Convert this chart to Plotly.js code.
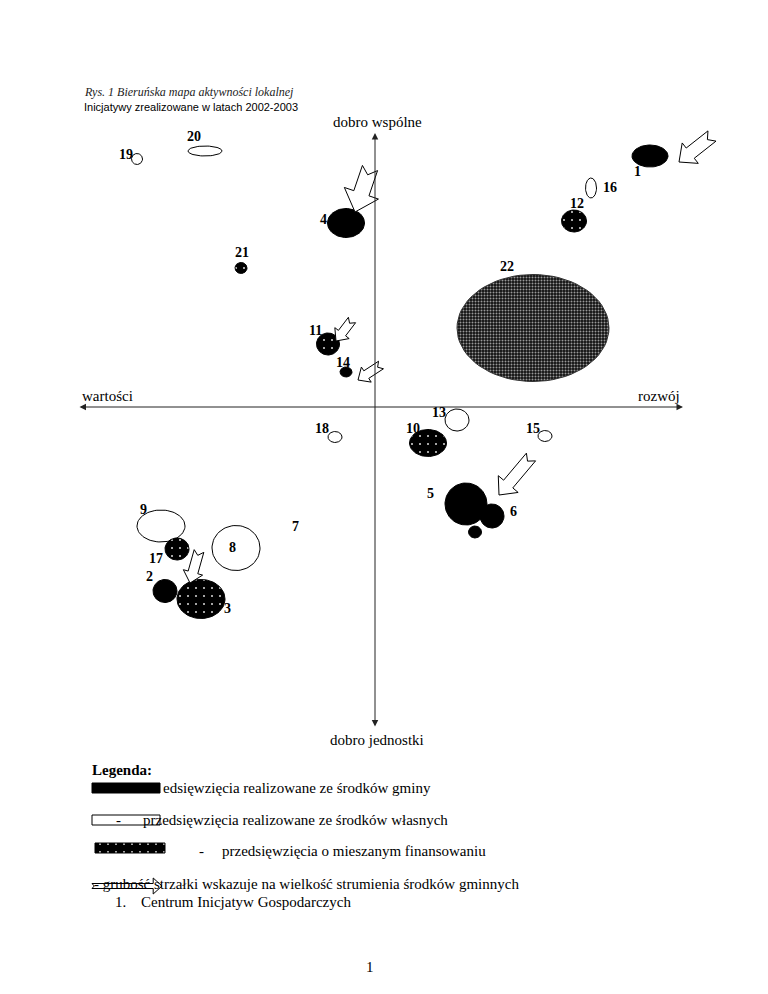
<!DOCTYPE html>
<html>
<head>
<meta charset="utf-8">
<script src="https://cdn.plot.ly/plotly-3.0.1.min.js"></script>
<style>html,body{margin:0;padding:0;background:#fff;}#chart{width:768px;height:994px;}</style>
</head>
<body>
<div id="chart"></div>
<script>
// ---- Data (coordinates relative to the axis cross) ----
const itemIds    = ['22','1','2','3','4','5','6','','8','9','10','11','12','13','14','15','16','17','18','19','20','21'];
const itemX      = [158, 275, -210, -174, -29, 91, 117, 100, -139, -214, 53, -47, 199, 82, -29, 170, 216, -198, -40, -238, -170, -134];
const itemY      = [79, 251, -184, -192, 184, -97, -109, -125, -141, -119, -36, 63, 186, -13, 35, -29, 219, -142, -30, 248, 256, 139];
const itemW      = [152, 36, 24, 48, 37, 42, 24, 13, 48, 48, 37, 23, 25, 24, 12, 14, 11, 24, 14, 11, 34, 12];
const itemH      = [107, 22, 23, 39, 29, 42, 24, 12, 45, 32, 27, 22, 22, 22, 10, 11, 20, 22, 11, 11, 10, 11];
// g = środki gminy (solid), w = środki własne (empty), m = mieszane (dotted), d = dense pattern
const itemKind   = ['d','g','g','m','g','g','g','g','w','w','m','m','m','w','g','w','w','m','w','w','w','m'];

const labelText  = ['1','2','3','4','5','6','7','8','9','10','11','12','13','14','15','16','17','18','19','20','21','22'];
const labelX     = [262, -226, -148, -52, 55, 138, -80, -143, -232, 38, -60, 202, 64, -32, 158, 235, -219, -53, -249, -181, -133, 132];
const labelY     = [236, -169, -201, 188, -86, -104, -119, -140, -102, -21, 77, 204, -5, 45, -21, 220, -151, -21, 253, 271, 155, 141];

// arrows: tail -> tip, head half-width, shaft half-width
const arrowTailX = [337, -5, -23, 6, 156, -176];
const arrowTailY = [271, 239, 87, 42, -50, -144];
const arrowTipX  = [304, -20, -39, -17, 124, -185];
const arrowTipY  = [245, 195, 66, 27, -88, -176];
const arrowHead  = [13, 18, 9, 9, 13, 10];
const arrowShaft = [6.5, 8, 4.5, 4.5, 6, 5];

// axes
const axisX = [-297, 308];
const axisY = [274, -321];

// ---- helpers ----
function ellipse(cx, cy, w, h) {
  const xs = [], ys = [];
  for (let i = 0; i <= 72; i++) {
    const t = i / 72 * 2 * Math.PI;
    xs.push(cx + w / 2 * Math.cos(t));
    ys.push(cy + h / 2 * Math.sin(t));
  }
  return {xs, ys};
}
function blockArrow(tx, ty, hx, hy, hw, sw) {
  const dx = hx - tx, dy = hy - ty, L = Math.hypot(dx, dy);
  const ux = dx / L, uy = dy / L, nx = -uy, ny = ux;
  const headLen = Math.min(hw * 1.1, L * 0.45);
  const bx = hx - ux * headLen, by = hy - uy * headLen;
  const notch = sw * 0.9;
  const pts = [
    [tx + nx * sw, ty + ny * sw],
    [bx + nx * sw, by + ny * sw],
    [bx + nx * hw, by + ny * hw],
    [hx, hy],
    [bx - nx * hw, by - ny * hw],
    [bx - nx * sw, by - ny * sw],
    [tx - nx * sw, ty - ny * sw],
    [tx + ux * notch, ty + uy * notch],
    [tx + nx * sw, ty + ny * sw]
  ];
  return {xs: pts.map(p => p[0]), ys: pts.map(p => p[1])};
}
const dotPattern = {shape: '.', bgcolor: '#000', fgcolor: '#ddd', size: 8, solidity: 0.05, fillmode: 'replace'};
const densePattern = {shape: '.', bgcolor: '#111', fgcolor: '#999', size: 3, solidity: 0.35, fillmode: 'replace'};

function polyTrace(xs, ys, kind) {
  const t = {x: xs, y: ys, mode: 'lines', type: 'scatter', fill: 'toself',
    line: {color: '#000', width: 1}, hoverinfo: 'skip', showlegend: false};
  if (kind === 'g') t.fillcolor = '#000';
  else if (kind === 'w') t.fillcolor = 'rgba(255,255,255,1)';
  else if (kind === 'm') t.fillpattern = dotPattern;
  else if (kind === 'd') { t.fillpattern = densePattern; t.line = {color: '#333', width: 1}; }
  return t;
}

const traces = [];
for (let i = 0; i < itemX.length; i++) {
  const e = ellipse(itemX[i], itemY[i], itemW[i], itemH[i]);
  traces.push(polyTrace(e.xs, e.ys, itemKind[i]));
}
for (let i = 0; i < arrowTailX.length; i++) {
  const a = blockArrow(arrowTailX[i], arrowTailY[i], arrowTipX[i], arrowTipY[i], arrowHead[i], arrowShaft[i]);
  const t = polyTrace(a.xs, a.ys, 'w');
  traces.push(t);
}
// legend swatches
function rect(x0, y0, x1, y1) { return {xs: [x0, x1, x1, x0, x0], ys: [y0, y0, y1, y1, y0]}; }
const r1 = rect(-283, -376, -215, -386); traces.push(polyTrace(r1.xs, r1.ys, 'g'));
const r2 = rect(-283, -408, -215, -418); const t2 = polyTrace(r2.xs, r2.ys, 'w'); t2.fill = 'none'; traces.push(t2);
const r3 = rect(-280, -436, -210, -446); traces.push(polyTrace(r3.xs, r3.ys, 'm'));
const la = blockArrow(-283, -479, -213, -479, 8, 2.5); const t4 = polyTrace(la.xs, la.ys, 'w'); t4.fill = 'none'; traces.push(t4);

const serif = 'Liberation Serif, Times New Roman, serif';
const ann = [];
function txt(x, y, text, opts) {
  ann.push(Object.assign({x, y, xref: 'x', yref: 'y', text, showarrow: false,
    xanchor: 'left', yanchor: 'middle', font: {family: serif, size: 15, color: '#000'}}, opts || {}));
}
// axes arrows
ann.push({x: axisX[1], y: 0, ax: axisX[0], ay: 0, axref: 'x', ayref: 'y', xref: 'x', yref: 'y',
  text: '', showarrow: true, arrowhead: 2, arrowside: 'end+start', arrowsize: 1.3, arrowwidth: 1, arrowcolor: '#222', standoff: 0, startstandoff: 0});
ann.push({x: 0, y: axisY[0], ax: 0, ay: axisY[1], axref: 'x', ayref: 'y', xref: 'x', yref: 'y',
  text: '', showarrow: true, arrowhead: 2, arrowside: 'end+start', arrowsize: 1.3, arrowwidth: 1, arrowcolor: '#222', standoff: 0, startstandoff: 0});

// number labels
for (let i = 0; i < labelText.length; i++) {
  txt(labelX[i], labelY[i], '<b>' + labelText[i] + '</b>', {xanchor: 'center', font: {family: serif, size: 14, color: '#000'}});
}
// header
txt(-293, 315, '<i>Rys. 1 Bieruńska mapa aktywności lokalnej</i>', {font: {family: serif, size: 12, color: '#222'}});
txt(-293, 300, 'Inicjatywy zrealizowane w latach 2002-2003', {font: {family: 'Liberation Sans, Arial, sans-serif', size: 11, color: '#000'}});
// axis labels
txt(2, 285, 'dobro wspólne', {xanchor: 'center'});
txt(-295, 11, 'wartości');
txt(307, 11, 'rozwój', {xanchor: 'right'});
txt(2, -333, 'dobro jednostki', {xanchor: 'center'});
// legend
txt(-285, -363, '<b>Legenda:</b>');
txt(-214, -381, 'edsięwzięcia realizowane ze środków gminy');
txt(-261, -413, '-');
txt(-234, -413, 'przedsięwzięcia realizowane ze środków własnych');
txt(-178, -444, '-');
txt(-155, -444, 'przedsięwzięcia o mieszanym finansowaniu');
txt(-283, -477, '- grubość strzałki wskazuje na wielkość strumienia środków gminnych');
txt(-262, -495, '1.');
txt(-236, -495, 'Centrum Inicjatyw Gospodarczych');
txt(-5, -560, '1', {xanchor: 'center'});

const layout = {
  width: 768, height: 994,
  margin: {l: 0, r: 0, t: 0, b: 0},
  paper_bgcolor: '#fff', plot_bgcolor: '#fff',
  xaxis: {range: [-375, 393], visible: false, fixedrange: true},
  yaxis: {range: [-587, 407], visible: false, fixedrange: true},
  annotations: ann,
  showlegend: false
};
Plotly.newPlot('chart', traces, layout, {staticPlot: true, displayModeBar: false});
</script>
</body>
</html>
